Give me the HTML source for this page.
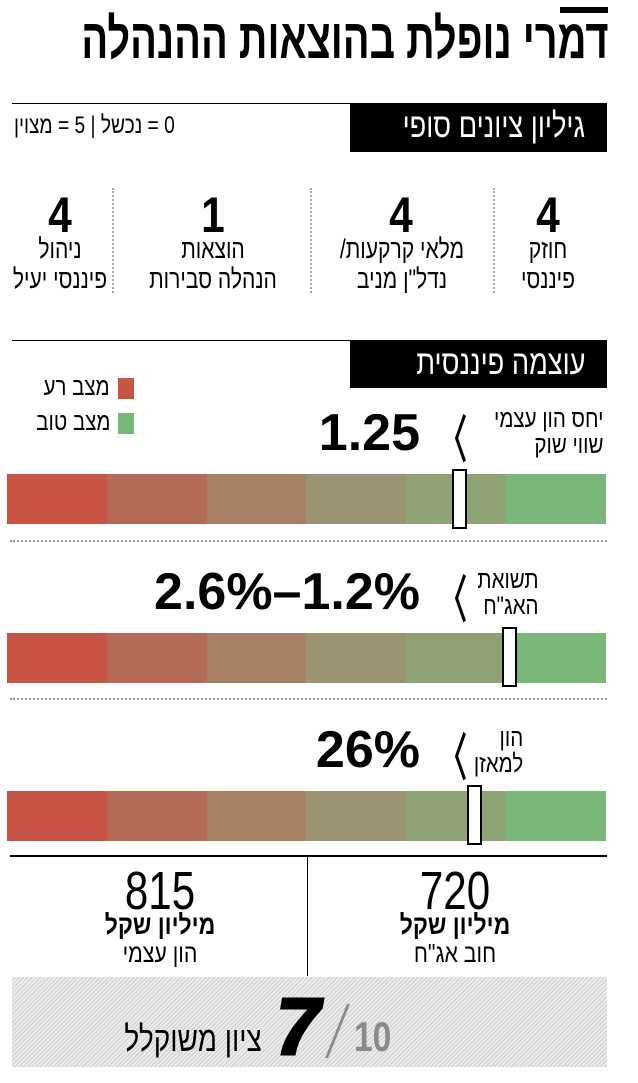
<!DOCTYPE html>
<html lang="he"><head><meta charset="utf-8">
<style>
*{margin:0;padding:0;box-sizing:border-box}
body{width:638px;height:1083px;background:#fff;position:relative;overflow:hidden;font-family:"Liberation Sans","DejaVu Sans",sans-serif;color:#000}
.a{position:absolute;white-space:nowrap}
.r{direction:rtl}
.n{transform-origin:right top}
.hb{position:absolute;background:#000;color:#fff;font-size:34px;direction:rtl;text-align:right;padding-right:22px}
.bar{position:absolute;left:7px;width:599px;height:50px;display:flex}
.bar div{flex:1}
.mk{position:absolute;width:15px;height:60px;background:#fff;border:2px solid #000}
.dot{position:absolute;left:10px;width:597px;border-top:2px dotted #999}
.vd{position:absolute;top:188px;height:105px;border-left:2px dotted #aaa}
.num{position:absolute;font-size:50px;font-weight:bold;text-align:center;width:140px;top:188px;line-height:54px;transform:scaleX(.85)}
.lab{position:absolute;font-size:27px;direction:rtl;text-align:center;width:190px;top:234px;line-height:30px;transform:scaleX(.78)}
.big{font-weight:bold;font-size:52px;line-height:52px}
.chev{position:absolute;font-size:50px;transform:scaleX(.55);font-weight:bold}
.vl{position:absolute;font-size:25px;line-height:26px;direction:rtl;text-align:right;transform:scaleX(.82);transform-origin:right top}
</style></head><body>
<div class="a" style="left:560px;top:7px;width:48px;height:6px;background:#000"></div>
<div class="a r n" style="right:30px;top:8px;font-size:56px;font-weight:bold;transform:scaleX(.71);line-height:62px">דמרי נופלת בהוצאות ההנהלה</div>

<div class="a" style="left:12px;top:103px;width:340px;height:1px;background:#000"></div>
<div class="hb" style="left:350px;top:103px;width:257px;height:49px;line-height:47px"><span style="display:inline-block;transform:scaleX(.8);transform-origin:right">גיליון ציונים סופי</span></div>
<div class="a r" style="left:14px;top:112px;font-size:24px;transform:scaleX(.8);transform-origin:left">0 = נכשל | 5 = מצוין</div>

<div class="vd" style="left:112px"></div><div class="vd" style="left:310px"></div><div class="vd" style="left:493px"></div>
<div class="num" style="left:-10px">4</div>
<div class="num" style="left:143px">1</div>
<div class="num" style="left:331px">4</div>
<div class="num" style="left:478px">4</div>
<div class="lab" style="left:-35px">ניהול<br>פיננסי יעיל</div>
<div class="lab" style="left:118px">הוצאות<br>הנהלה סבירות</div>
<div class="lab" style="left:307px">מלאי קרקעות/<br>נדל"ן מניב</div>
<div class="lab" style="left:453px">חוזק<br>פיננסי</div>

<div class="a" style="left:12px;top:340px;width:340px;height:1px;background:#000"></div>
<div class="hb" style="left:350px;top:340px;width:257px;height:48px;line-height:46px"><span style="display:inline-block;transform:scaleX(.8);transform-origin:right">עוצמה פיננסית</span></div>
<div class="a" style="left:118px;top:378px;width:16px;height:21px;background:#c85443"></div>
<div class="a" style="left:118px;top:413px;width:16px;height:21px;background:#7ab87a"></div>
<div class="a r" style="right:528px;top:373px;font-size:25px;transform:scaleX(.82);transform-origin:right">מצב רע</div>
<div class="a r" style="right:528px;top:408px;font-size:25px;transform:scaleX(.82);transform-origin:right">מצב טוב</div>

<div class="a big" style="right:218px;top:407px">1.25</div>
<div class="chev" style="left:428px;top:400px">〈</div>
<div class="vl" style="right:35px;top:406px">יחס הון עצמי<br>שווי שוק</div>
<div class="bar" style="top:474px"><div style="background:#c85443"></div><div style="background:#b56a55"></div><div style="background:#a88164"></div><div style="background:#9b9472"></div><div style="background:#8fa474"></div><div style="background:#7ab87a"></div></div>
<div class="mk" style="left:452px;top:469px"></div>
<div class="dot" style="top:540px"></div>

<div class="a big" style="right:218px;top:566px">2.6%–1.2%</div>
<div class="chev" style="left:428px;top:560px">〈</div>
<div class="vl" style="right:100px;top:567px">תשואת<br>האג"ח</div>
<div class="bar" style="top:633px"><div style="background:#c85443"></div><div style="background:#b56a55"></div><div style="background:#a88164"></div><div style="background:#9b9472"></div><div style="background:#8fa474"></div><div style="background:#7ab87a"></div></div>
<div class="mk" style="left:502px;top:627px"></div>
<div class="dot" style="top:698px"></div>

<div class="a big" style="right:218px;top:724px">26%</div>
<div class="chev" style="left:428px;top:718px">〈</div>
<div class="vl" style="right:115px;top:725px">הון<br>למאזן</div>
<div class="bar" style="top:791px"><div style="background:#c85443"></div><div style="background:#b56a55"></div><div style="background:#a88164"></div><div style="background:#9b9472"></div><div style="background:#8fa474"></div><div style="background:#7ab87a"></div></div>
<div class="mk" style="left:467px;top:785px"></div>

<div class="a" style="left:10px;top:855px;width:597px;height:2px;background:#000"></div>
<div class="a" style="left:307px;top:856px;width:1px;height:120px;background:#000"></div>

<div class="a" style="left:60px;top:864px;width:200px;text-align:center;font-size:54px;line-height:54px;transform:scaleX(.78)">815</div>
<div class="a r" style="left:60px;top:910px;width:200px;text-align:center;font-size:27px;font-weight:bold;transform:scaleX(.85)">מיליון שקל</div>
<div class="a r" style="left:60px;top:938px;width:200px;text-align:center;font-size:26px;transform:scaleX(.82)">הון עצמי</div>
<div class="a" style="left:355px;top:864px;width:200px;text-align:center;font-size:54px;line-height:54px;transform:scaleX(.78)">720</div>
<div class="a r" style="left:355px;top:910px;width:200px;text-align:center;font-size:27px;font-weight:bold;transform:scaleX(.85)">מיליון שקל</div>
<div class="a r" style="left:355px;top:938px;width:200px;text-align:center;font-size:26px;transform:scaleX(.82)">חוב אג"ח</div>

<div class="a" style="left:12px;top:977px;width:595px;height:90px;background:repeating-linear-gradient(135deg,#ececec 0 2px,#cdcdcd 2px 3px)"></div>
<div class="a" style="left:276px;top:990px;font-size:80px;font-weight:900;line-height:74px;transform:skewX(-10deg) scaleX(1.05);-webkit-text-stroke:3px #000">7</div>
<div class="a" style="left:336px;top:1004px;width:3px;height:54px;background:#8a8a8a;transform:skewX(-22deg)"></div>
<div class="a" style="left:354px;top:1016px;font-size:42px;font-weight:bold;color:#8a8a8a;line-height:42px;transform:scaleX(.8);transform-origin:left">10</div>
<div class="a r" style="right:376px;top:1020px;font-size:35px;transform:scaleX(.8);transform-origin:right">ציון משוקלל</div>
</body></html>
